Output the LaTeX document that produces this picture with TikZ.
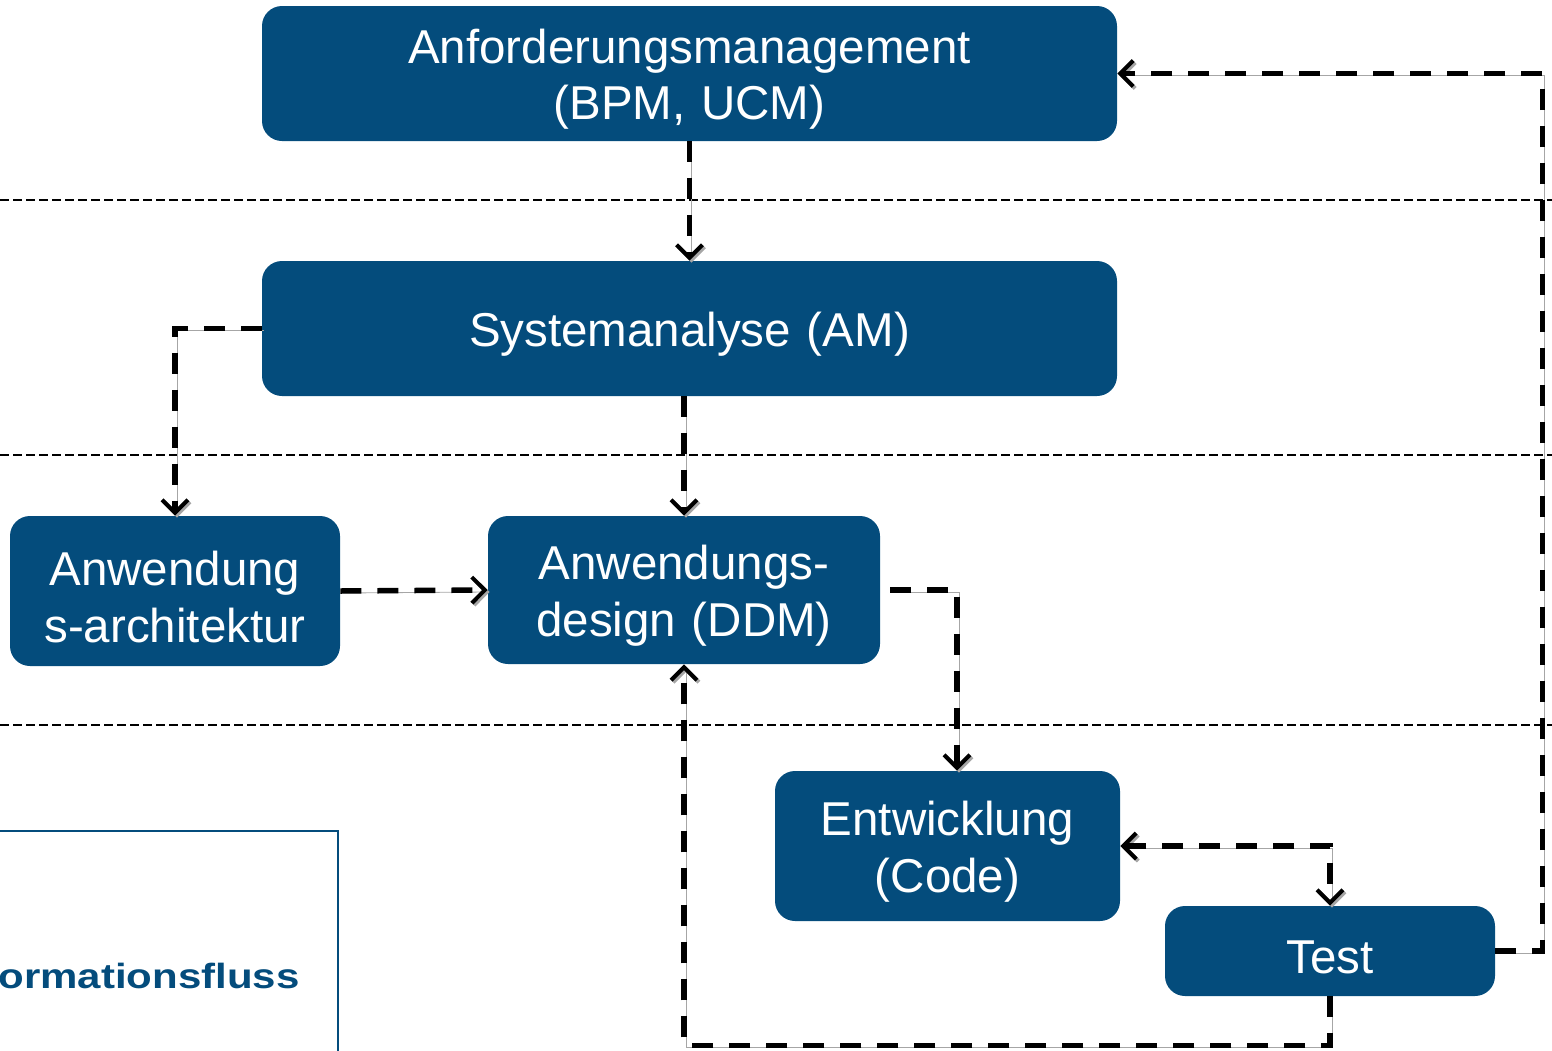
\documentclass[tikz,border=0pt]{standalone}
\usepackage{fontspec}
\setmainfont{Liberation Sans}
\usetikzlibrary{arrows.meta}
\definecolor{phaseblue}{RGB}{4,76,124}

\begin{document}
\begin{tikzpicture}[x=0.5pt,y=-0.5pt,
    phase/.style={fill=phaseblue,text=white,rounded corners=10pt,inner sep=0pt,align=center,
      font=\fontsize{23.75}{28.25}\selectfont,execute at begin node={\rule{0pt}{23pt}}},
    tip/.tip={Straight Barb[length=6.5pt,width=13pt,line width=2pt]},
    flow/.style={line width=2.75pt,dash pattern=on 10.5pt off 8pt,-tip,
      preaction={draw=black!35,transform canvas={shift={(2,2)}}}},
    level/.style={line width=0.75pt,dash pattern=on 4.5pt off 2pt}]
      \useasboundingbox (0,0) rectangle (1552,1050);
      % Ebenen
      \draw [level] (0,200) -- (1552,200);
      \draw [level] (0,455) -- (1552,455);
      \draw [level] (0,725) -- (1552,725);
      % Legende
      \draw [phaseblue,line width=1pt] (-10,831) rectangle (338,1070);
      \node (legend) at (300,976) [anchor=east,inner sep=0pt,text=phaseblue,font=\fontsize{17.5}{21}\selectfont\bfseries]
        {\scalebox{1.2}[1]{ormationsfluss}};
      % Phasen
      \node (anf) at (689.5,73.5) [phase,text width=427.5pt,minimum height=67.5pt] {Anforderungsmanagement\\(BPM, UCM)};
      \node (sys) at (689.5,328.5) [phase,text width=427.5pt,minimum height=67.5pt] {Systemanalyse (AM)};
      \node (arch) at (175,591) [phase,text width=165pt,minimum height=75pt] {Anwendung\\s-architektur};
      \node (design) at (684,590) [phase,text width=196pt,minimum height=74pt] {Anwendungs-\\design (DDM)};
      \node (entw) at (947.5,846) [phase,text width=172.5pt,minimum height=75pt] {Entwicklung\\(Code)};
      \node (test) at (1330,951) [phase,text width=165pt,minimum height=45pt] {Test};
      % Informationsfluss
      \draw [flow] (anf.south) -- (sys.north);
      \draw [flow] (sys.west) -| (arch.north);
      \draw [flow] (sys.south -| design.north) -- (design.north);
      \draw [flow] (arch.east) -- (design.west);
      \draw [flow] ([xshift=5pt]design.east) -| ([xshift=4.75pt]entw.north);
      \draw [flow,tip-tip] (entw.east) -| (test.north);
      \draw [flow] (test.south) -- ++(0,49) -| (design.south);
      \draw [flow] (test.east) -- ++(47,0) |- (anf.east);
    \end{tikzpicture}
\end{document}
